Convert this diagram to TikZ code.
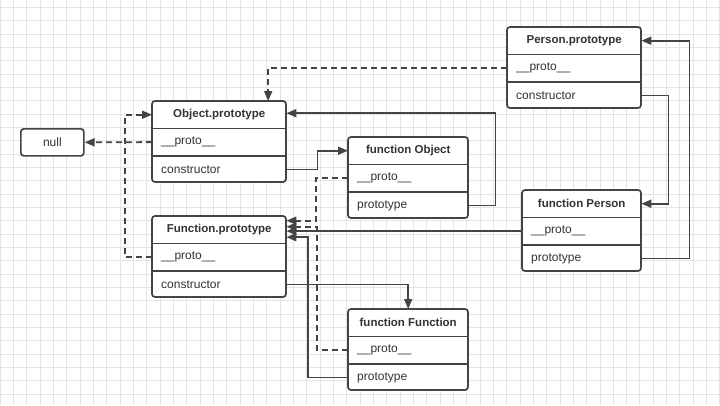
\documentclass[tikz,border=0pt]{standalone}
\usepackage{fontspec}
\setmainfont{Liberation Sans}
\usetikzlibrary{arrows.meta,positioning,calc}

\definecolor{ink}{HTML}{444444}
\definecolor{txt}{HTML}{333333}
\definecolor{gridc}{HTML}{E4E4E4}

% one prototype box: name, north west corner, width, title, two rows
\newcommand{\protobox}[6]{%
  \draw[boxline] #2 rectangle ++(#3,81);
  \node[hdr, minimum width=#3pt, anchor=north west] (#1) at #2 {#4};
  \node[rowbox, text width=#3pt-18pt, below=0pt of #1] (#1-a) {#5};
  \node[rowbox, text width=#3pt-18pt, below=0pt of #1-a] (#1-b) {#6};
  \draw[sep] (#1.south west) -- (#1.south east);
  \draw[sep] (#1-a.south west) -- (#1-a.south east);
}

\begin{document}
\begin{tikzpicture}[
    x=1pt, y=-1pt,
    boxline/.style={draw=ink, line width=1.7pt, fill=white, rounded corners=3pt},
    sep/.style={draw=ink, line width=1.5pt},
    hdr/.style={minimum height=27pt, inner sep=0pt, text=txt, font=\fontsize{11.5}{13}\selectfont\bfseries},
    rowbox/.style={minimum height=27pt, inner xsep=9pt, inner ysep=0pt, align=left, text=txt, font=\fontsize{12}{14}\selectfont},
    arr/.style={draw=ink, line width=1.8pt, -{Triangle[length=10pt, width=8pt]}},
    dasharr/.style={arr, dash pattern=on 6pt off 4pt},
  ]
  \useasboundingbox (0,0) rectangle (720,405);
  \fill[white] (0,0) rectangle (720,405);
  \foreach \i in {0,...,54}
    \draw[gridc, line width=0.7pt] (\i*13.33,0) -- (\i*13.33,405);
  \foreach \j in {0,...,30}
    \draw[gridc, line width=0.7pt] (0,7.3+\j*13.33) -- (720,7.3+\j*13.33);

  \node[boxline, minimum width=63pt, minimum height=27pt, anchor=north west, text=txt, font=\fontsize{12}{14}\selectfont] (nul) at (20,128) {null};

  \protobox{OP}{(152,101)}{134}{Object.prototype}{\_\_proto\_\_}{constructor}
  \protobox{FO}{(348,137)}{120}{function Object}{\_\_proto\_\_}{prototype}
  \protobox{FP}{(152,216)}{134}{Function.prototype}{\_\_proto\_\_}{constructor}
  \protobox{FF}{(348,309)}{120}{function Function}{\_\_proto\_\_}{prototype}
  \protobox{PP}{(507,27)}{134}{Person.prototype}{\_\_proto\_\_}{constructor}
  \protobox{PF}{(522,190)}{119}{function Person}{\_\_proto\_\_}{prototype}

  \draw[dasharr] (OP-a.west) -- (nul.east);
  \draw[dasharr] (FP-a.west) -- ++(-27,0) |- (OP.west);
  \draw[arr] (OP-b.east) -- ++(31,0) |- (FO.west);
  \draw[arr] (FO-b.east) -- ++(27,0) |- ($(OP.east)+(0,-1.5)$);
  \draw[dasharr] (FO-a.west) -- ++(-32,0) |- ($(FP.east)+(0,-9)$);
  \draw[dasharr] (FF-a.west) -- ++(-31,0) |- ($(FP.east)+(0,-3)$);
  \draw[arr] (PF-a.west) -- (PF-a.west -| FP.east);
  \draw[arr] (FF-b.west) -- ++(-40,0) |- ($(FP.east)+(0,7.5)$);
  \draw[arr] (FP-b.east) -| (FF.north);
  \draw[dasharr] (PP-a.west) -| ($(OP.north)+(49,0)$);
  \draw[arr] (PP-b.east) -- ++(27,0) |- (PF.east);
  \draw[arr] (PF-b.east) -- ++(48,0) |- (PP.east);
\end{tikzpicture}
\end{document}
